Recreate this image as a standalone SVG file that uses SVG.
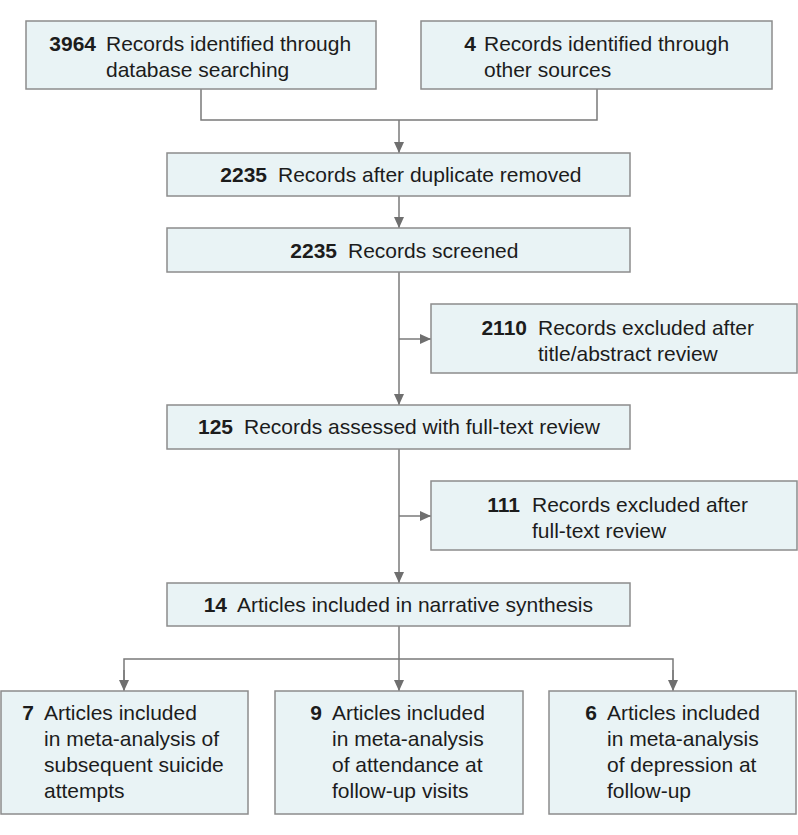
<svg xmlns="http://www.w3.org/2000/svg" width="798" height="835" viewBox="0 0 798 835">
<defs>
<marker id="arr" markerUnits="userSpaceOnUse" markerWidth="12" markerHeight="12" viewBox="0 0 12 12" refX="11" refY="6" orient="auto">
<path d="M0,1 L11,6 L0,11 Z" fill="#6f6f6f"/>
</marker>
<style>
.box{fill:#e9f3f5;stroke:#8c8c8c;stroke-width:1.5}
.t{font-family:"Liberation Sans",Arial,sans-serif;font-size:21px;fill:#1c1c1c}
.n{font-family:"Liberation Sans",Arial,sans-serif;font-size:21px;font-weight:bold;fill:#1c1c1c;text-anchor:end}
.c{fill:none;stroke:#7a7a7a;stroke-width:1.5}
.a{fill:none;stroke:#7a7a7a;stroke-width:1.5;marker-end:url(#arr)}
</style>
</defs>
<rect width="798" height="835" fill="#ffffff"/>
<g id="connectors">
<path class="c" d="M201 89 V120 H597 V89"/>
<path class="a" d="M399 120 V153"/>
<path class="a" d="M399 196 V228"/>
<path class="a" d="M399 272 V405"/>
<path class="a" d="M399 339 H431"/>
<path class="a" d="M399 449 V583"/>
<path class="a" d="M399 516 H431"/>
<path class="a" d="M399 626 V691"/>
<path class="c" d="M124 680 V659 H673 V680"/>
<path class="a" d="M124 670 V691"/>
<path class="a" d="M673 670 V691"/>
</g>
<g id="n1">
<rect class="box" x="26" y="21" width="350" height="68"/>
<text class="n" x="96" y="51">3964</text>
<text class="t" x="106" y="51">Records identified through</text>
<text class="t" x="106" y="77">database searching</text>
</g>
<g id="n2">
<rect class="box" x="421" y="21" width="351" height="68"/>
<text class="n" x="476" y="51">4</text>
<text class="t" x="484" y="51">Records identified through</text>
<text class="t" x="484" y="77">other sources</text>
</g>
<g id="n3">
<rect class="box" x="167" y="153" width="463" height="43"/>
<text class="n" x="267" y="182">2235</text>
<text class="t" x="278" y="182">Records after duplicate removed</text>
</g>
<g id="n4">
<rect class="box" x="167" y="228" width="463" height="44"/>
<text class="n" x="337" y="258">2235</text>
<text class="t" x="348" y="258">Records screened</text>
</g>
<g id="n5">
<rect class="box" x="431" y="304" width="366" height="69"/>
<text class="n" x="527" y="335">2110</text>
<text class="t" x="538" y="335">Records excluded after</text>
<text class="t" x="538" y="361">title/abstract review</text>
</g>
<g id="n6">
<rect class="box" x="167" y="405" width="463" height="44"/>
<text class="n" x="233" y="434">125</text>
<text class="t" x="244" y="434">Records assessed with full-text review</text>
</g>
<g id="n7">
<rect class="box" x="431" y="481" width="366" height="69"/>
<text class="n" x="520" y="512">111</text>
<text class="t" x="532" y="512">Records excluded after</text>
<text class="t" x="532" y="538">full-text review</text>
</g>
<g id="n8">
<rect class="box" x="167" y="583" width="463" height="43"/>
<text class="n" x="227" y="612">14</text>
<text class="t" x="237" y="612">Articles included in narrative synthesis</text>
</g>
<g id="n9">
<rect class="box" x="1" y="691" width="247" height="123"/>
<text class="n" x="34" y="720">7</text>
<text class="t" x="44" y="720">Articles included</text>
<text class="t" x="44" y="746">in meta-analysis of</text>
<text class="t" x="44" y="772">subsequent suicide</text>
<text class="t" x="44" y="798">attempts</text>
</g>
<g id="n10">
<rect class="box" x="275" y="691" width="248" height="123"/>
<text class="n" x="322" y="720">9</text>
<text class="t" x="332" y="720">Articles included</text>
<text class="t" x="332" y="746">in meta-analysis</text>
<text class="t" x="332" y="772">of attendance at</text>
<text class="t" x="332" y="798">follow-up visits</text>
</g>
<g id="n11">
<rect class="box" x="549" y="691" width="247" height="123"/>
<text class="n" x="597" y="720">6</text>
<text class="t" x="607" y="720">Articles included</text>
<text class="t" x="607" y="746">in meta-analysis</text>
<text class="t" x="607" y="772">of depression at</text>
<text class="t" x="607" y="798">follow-up</text>
</g>
</svg>
